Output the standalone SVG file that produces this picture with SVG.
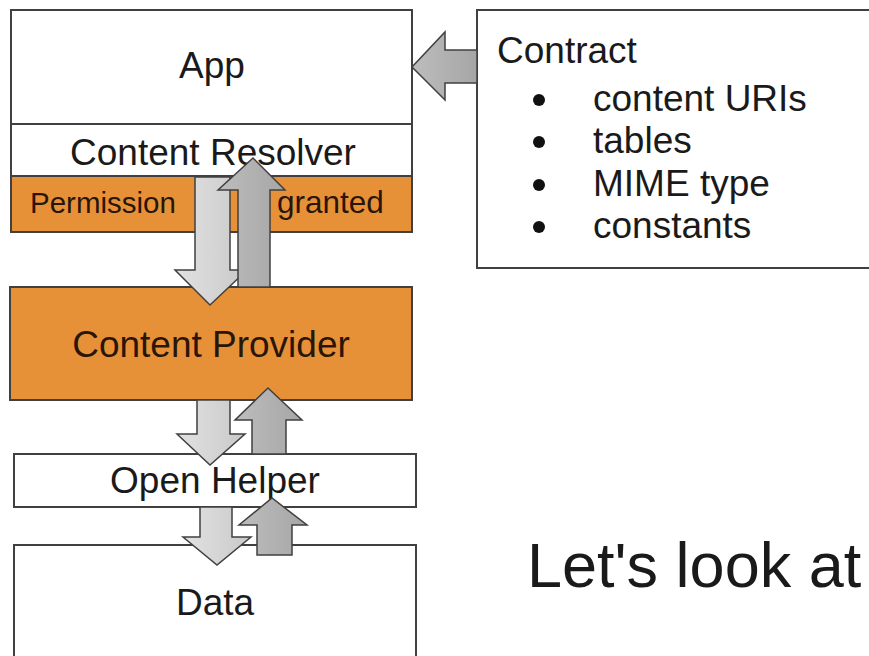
<svg xmlns="http://www.w3.org/2000/svg" width="869" height="656" viewBox="0 0 869 656">
<style>
.box{stroke:#404040;stroke-width:2}
.w{fill:#ffffff}
.o{fill:#e69138}
.t{font-family:"Liberation Sans",Arial,sans-serif;font-size:37px;fill:#1a1a1a}
.to{font-family:"Liberation Sans",Arial,sans-serif;fill:#2a1508}
.dn{fill:url(#gd);stroke:#404040;stroke-width:1.5}
.up{fill:url(#gu);stroke:#404040;stroke-width:1.5}
</style>
<defs>
<linearGradient id="gd" x1="0" y1="0" x2="1" y2="0">
<stop offset="0" stop-color="#e2e2e2"/><stop offset="1" stop-color="#c9c9c9"/>
</linearGradient>
<linearGradient id="gu" x1="0" y1="0" x2="1" y2="0">
<stop offset="0" stop-color="#bdbdbd"/><stop offset="1" stop-color="#a6a6a6"/>
</linearGradient>
</defs>
<rect width="869" height="656" fill="#ffffff"/>
<g id="app">
<rect class="box w" x="11" y="10" width="401" height="114"/>
<text class="t" x="212" y="78" text-anchor="middle">App</text>
</g>
<g id="resolver">
<rect class="box w" x="11" y="124" width="401" height="52"/>
<text class="t" x="213" y="165" text-anchor="middle">Content Resolver</text>
</g>
<g id="permission">
<rect class="box o" x="11" y="176" width="401" height="56"/>
<text class="to" x="30" y="213" font-size="29.5">Permission</text>
<text class="to" x="277" y="213" font-size="31.5">granted</text>
</g>
<g id="contract">
<rect class="box w" x="477" y="10" width="400" height="258"/>
<text class="t" x="497" y="63">Contract</text>
<circle cx="539" cy="100" r="6" fill="#111"/>
<text class="t" x="593" y="111">content URIs</text>
<circle cx="539" cy="142" r="6" fill="#111"/>
<text class="t" x="593" y="153">tables</text>
<circle cx="539" cy="185" r="6" fill="#111"/>
<text class="t" x="593" y="196">MIME type</text>
<circle cx="539" cy="227" r="6" fill="#111"/>
<text class="t" x="593" y="238">constants</text>
</g>
<g id="provider">
<rect class="box o" x="10" y="287" width="402" height="113"/>
<text class="to" x="211" y="357" font-size="37" text-anchor="middle">Content Provider</text>
</g>
<g id="helper">
<rect class="box w" x="14" y="454" width="402" height="53"/>
<text class="t" x="215" y="493" text-anchor="middle">Open Helper</text>
</g>
<g id="data">
<rect class="box w" x="14" y="545" width="402" height="130"/>
<text class="t" x="215" y="615" text-anchor="middle">Data</text>
</g>
<g id="caption">
<text class="t" x="527" y="587" style="font-size:63px">Let's look at</text>
</g>
<g id="connectors">
<path class="dn" d="M195,177 H230 V270 H247 L210,305 L175,270 H195 Z"/>
<path class="up" d="M238,287 V190 H218 L253,158 L285,190 H270 V287 Z"/>
<path class="dn" d="M197,400 H230 V434 H245 L210,465 L177,434 H197 Z"/>
<path class="up" d="M252,454 V420 H235 L268,388 L302,420 H286 V454 Z"/>
<path class="dn" d="M200,507 H232 V537 H251 L217,565 L183,537 H200 Z"/>
<path class="up" d="M257,555 V525 H239 L272,498 L307,525 H292 V555 Z"/>
<path class="up" d="M477,50 H445 V32 L412,67 L445,100 V83 H477 Z"/>
</g>
</svg>
